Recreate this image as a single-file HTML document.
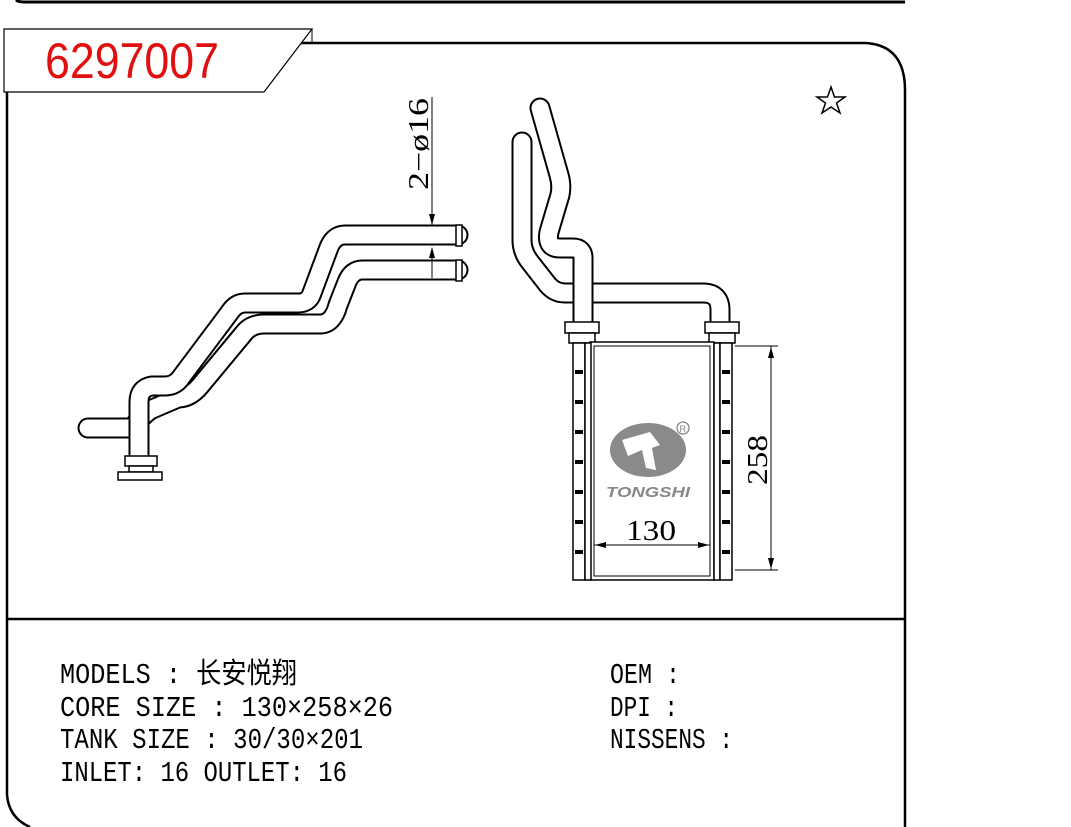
<!DOCTYPE html>
<html><head><meta charset="utf-8"><style>
html,body{margin:0;padding:0;background:#fff;}
svg{display:block;}
.t{font-family:"Liberation Mono","Noto Sans CJK SC",monospace;font-size:29px;fill:#000;}
.s{font-family:"Liberation Serif",serif;font-size:28px;fill:#000;}
</style></head><body>
<svg width="1071" height="827" viewBox="0 0 1071 827" xmlns="http://www.w3.org/2000/svg">
<path d="M16,0 Q18,2 24,2 H905" fill="none" stroke="#000" stroke-width="3"/>
<path d="M300,43 H865 Q905,45 905,90 V827" fill="none" stroke="#000" stroke-width="2.5"/>
<path d="M7,92 V795 Q9,818 30,827" fill="none" stroke="#000" stroke-width="2.5"/>
<line x1="7" y1="619" x2="905" y2="619" stroke="#000" stroke-width="2.5"/>
<polygon points="4,29 312,29 264,92 4,92" fill="#fff" stroke="#000" stroke-width="1.2"/>
<line x1="312" y1="29" x2="312" y2="44" stroke="#000" stroke-width="1"/>
<text x="45" y="78" font-family="Liberation Sans,sans-serif" font-size="50" fill="#e01010" textLength="174" lengthAdjust="spacingAndGlyphs">6297007</text>
<polygon points="831,87 834.5,97 845,97 836.5,103 840,113 831,107 822,113 825.5,103 817,97 827.5,97" fill="none" stroke="#000" stroke-width="1.5"/>

<g fill="none" stroke-linejoin="round" stroke-linecap="round">
<path d="M458,270 H362 Q352,270 347,282 L338,305 Q333,324 320,324 H262 Q250,325 244,333 L200,386 Q190,398 178,398 L150,410 Q140,418 132,428 H88" stroke="#000" stroke-width="21"/>
<path d="M458,270 H362 Q352,270 347,282 L338,305 Q333,324 320,324 H262 Q250,325 244,333 L200,386 Q190,398 178,398 L150,410 Q140,418 132,428 H88" stroke="#fff" stroke-width="17"/>
<path d="M458,235 H345 Q333,235 328,250 L312,293 Q309,303 298,303 H245 Q236,303 230,312 L182,376 Q176,386 165,386 H152 Q139,388 139,402 V458" stroke="#000" stroke-width="21"/>
<path d="M458,235 H345 Q333,235 328,250 L312,293 Q309,303 298,303 H245 Q236,303 230,312 L182,376 Q176,386 165,386 H152 Q139,388 139,402 V458" stroke="#fff" stroke-width="17"/>
</g>
<g fill="#fff" stroke="#000" stroke-width="1.5">
<rect x="456" y="225" width="6" height="21"/>
<rect x="456" y="260" width="6" height="21"/>
<rect x="125" y="456" width="32" height="10"/>
<rect x="129" y="466" width="24" height="6"/>
<rect x="118" y="472" width="44" height="8"/>
</g>
<line x1="432" y1="97" x2="432" y2="226" stroke="#000" stroke-width="1"/>
<line x1="432" y1="258" x2="432" y2="278" stroke="#000" stroke-width="1"/>
<polygon points="429,214 435,214 432,225" fill="#000"/>
<polygon points="429,258 435,258 432,247" fill="#000"/>
<text class="s" transform="translate(428,190) rotate(-90)" textLength="92" lengthAdjust="spacingAndGlyphs">2−ø16</text>

<g fill="none" stroke-linejoin="round" stroke-linecap="round">
<path d="M522,142 V240 Q522,252 530,262 L548,285 Q555,293 565,293 H703 Q720,293 720,310 V328" stroke="#000" stroke-width="21"/>
<path d="M522,142 V240 Q522,252 530,262 L548,285 Q555,293 565,293 H703 Q720,293 720,310 V328" stroke="#fff" stroke-width="17"/>
<path d="M540,108 L559,175 Q562,185 560,195 L549,232 Q546,248 560,248 H573 Q583,248 583,258 V328" stroke="#000" stroke-width="21"/>
<path d="M540,108 L559,175 Q562,185 560,195 L549,232 Q546,248 560,248 H573 Q583,248 583,258 V328" stroke="#fff" stroke-width="17"/>
</g>
<g fill="#fff" stroke="#000" stroke-width="1.5">
<rect x="565" y="322" width="34" height="11"/>
<rect x="569" y="333" width="26" height="10"/>
<rect x="705" y="322" width="34" height="11"/>
<rect x="709" y="333" width="26" height="10"/>
<rect x="590" y="342" width="124" height="238"/>
<rect x="594" y="346" width="116" height="230" stroke-width="1"/>
<rect x="573" y="343" width="12" height="237"/>
<rect x="585" y="343" width="6" height="237"/>
<rect x="714" y="343" width="6" height="237"/>
<rect x="720" y="343" width="12" height="237"/>
</g>
<g fill="#000">
<rect x="575" y="370" width="8" height="4"/><rect x="575" y="400" width="8" height="4"/><rect x="575" y="430" width="8" height="4"/><rect x="575" y="460" width="8" height="4"/><rect x="575" y="490" width="8" height="4"/><rect x="575" y="520" width="8" height="4"/><rect x="575" y="550" width="8" height="4"/>
<rect x="722" y="370" width="8" height="4"/><rect x="722" y="400" width="8" height="4"/><rect x="722" y="430" width="8" height="4"/><rect x="722" y="460" width="8" height="4"/><rect x="722" y="490" width="8" height="4"/><rect x="722" y="520" width="8" height="4"/><rect x="722" y="550" width="8" height="4"/>
</g>
<ellipse cx="648" cy="450" rx="38" ry="27" fill="#8a8a8a"/>
<path d="M622,440 L650,432 L660,445 L652,448 L656,470 L646,468 L642,450 L628,456 Z" fill="#fff"/>
<text x="606" y="497" font-family="Liberation Sans,sans-serif" font-weight="bold" font-style="italic" font-size="15" fill="#888" textLength="84" lengthAdjust="spacingAndGlyphs">TONGSHI</text>
<circle cx="683" cy="428" r="6" fill="none" stroke="#888" stroke-width="1.3"/>
<text x="679.5" y="432" font-family="Liberation Sans,sans-serif" font-size="9" fill="#888">R</text>
<line x1="735" y1="346" x2="778" y2="346" stroke="#000" stroke-width="1"/>
<line x1="735" y1="570" x2="778" y2="570" stroke="#000" stroke-width="1"/>
<line x1="771" y1="346" x2="771" y2="570" stroke="#000" stroke-width="1"/>
<polygon points="768,358 774,358 771,347" fill="#000"/>
<polygon points="768,558 774,558 771,569" fill="#000"/>
<text class="s" transform="translate(767,485) rotate(-90)" textLength="50" lengthAdjust="spacingAndGlyphs">258</text>
<line x1="594" y1="545" x2="710" y2="545" stroke="#000" stroke-width="1"/>
<polygon points="606,542 606,548 595,545" fill="#000"/>
<polygon points="698,542 698,548 709,545" fill="#000"/>
<text class="s" x="626" y="540" textLength="50" lengthAdjust="spacingAndGlyphs">130</text>
<text class="t" x="60" y="683" textLength="237" lengthAdjust="spacingAndGlyphs">MODELS : 长安悦翔</text>
<text class="t" x="60" y="716" textLength="333" lengthAdjust="spacingAndGlyphs">CORE SIZE : 130×258×26</text>
<text class="t" x="60" y="748" textLength="303" lengthAdjust="spacingAndGlyphs">TANK SIZE : 30/30×201</text>
<text class="t" x="60" y="781" textLength="287" lengthAdjust="spacingAndGlyphs">INLET: 16  OUTLET: 16</text>
<text class="t" x="610" y="683" textLength="70" lengthAdjust="spacingAndGlyphs">OEM :</text>
<text class="t" x="610" y="716" textLength="68" lengthAdjust="spacingAndGlyphs">DPI :</text>
<text class="t" x="610" y="748" textLength="123" lengthAdjust="spacingAndGlyphs">NISSENS :</text>
</svg>
</body></html>
